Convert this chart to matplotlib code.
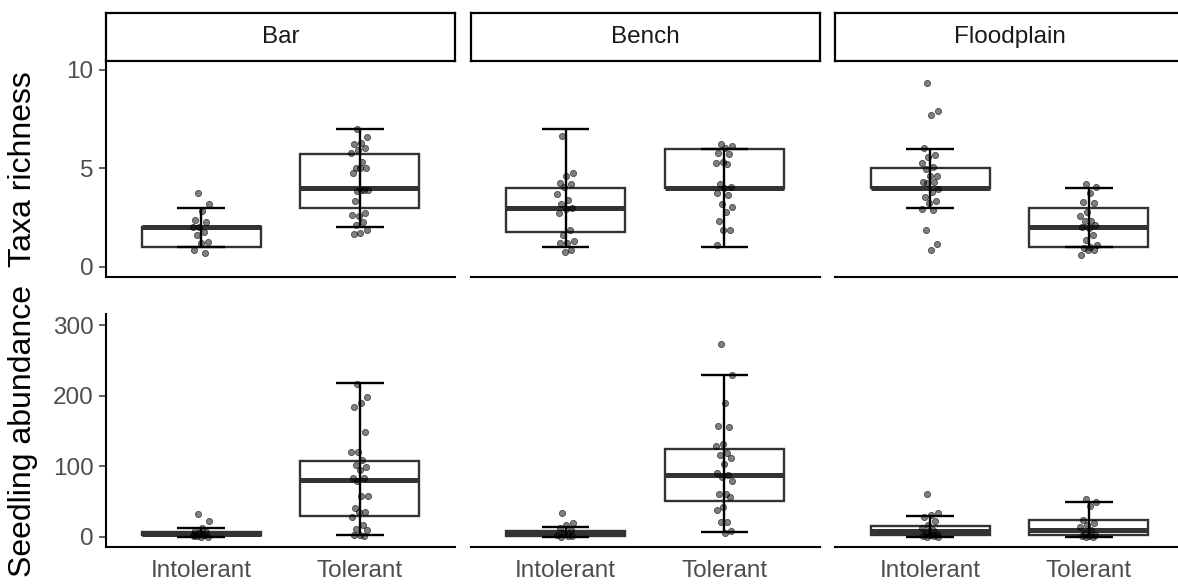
import numpy as np
import matplotlib
matplotlib.use("Agg")
import matplotlib.pyplot as plt

plt.rcParams["font.family"] = ["Liberation Sans", "DejaVu Sans"]

SITES = ["Bar", "Bench", "Floodplain"]
GROUPS = ["Intolerant", "Tolerant"]
ROW_LABELS = ["Taxa richness", "Seedling abundance"]

# box stats: (whisker_lo, q1, median, q3, whisker_hi)
RICH_BOX = {
    ("Bar", "Intolerant"): (1, 1, 2, 2, 3),
    ("Bar", "Tolerant"): (2, 3, 4, 5.75, 7),
    ("Bench", "Intolerant"): (1, 1.75, 3, 4, 7),
    ("Bench", "Tolerant"): (1, 4, 4, 6, 6),
    ("Floodplain", "Intolerant"): (3, 4, 4, 5, 6),
    ("Floodplain", "Tolerant"): (1, 1, 2, 3, 4),
}
ABUND_BOX = {
    ("Bar", "Intolerant"): (0, 2, 4, 7, 13),
    ("Bar", "Tolerant"): (2, 30, 80, 107, 218),
    ("Bench", "Intolerant"): (0, 1.5, 5, 8.5, 14),
    ("Bench", "Tolerant"): (6, 51, 87, 125, 229),
    ("Floodplain", "Intolerant"): (0, 2.5, 8, 15, 29),
    ("Floodplain", "Tolerant"): (0, 3, 10, 23, 49),
}

# jittered observations (y values as drawn)
RICH_PTS = {
    ("Bar", "Intolerant"): [3.73, 3.17, 2.85, 2.37, 2.29, 2.03, 2.03, 1.78, 1.61,
                            1.27, 1.22, 0.85, 0.71],
    ("Bar", "Tolerant"): [6.98, 6.61, 6.31, 6.24, 6.02, 5.93, 5.76, 5.31, 5.0, 5.0,
                          5.0, 4.75, 3.9, 3.86, 3.92, 3.9, 3.34, 2.71, 2.58, 2.62,
                          2.29, 2.12, 1.86, 1.69, 1.64],
    ("Bench", "Intolerant"): [6.64, 4.75, 4.63, 4.27, 4.19, 4.07, 3.69, 3.39, 3.19,
                              2.97, 2.92, 2.71, 1.86, 1.61, 1.32, 1.19, 1.19, 0.85,
                              0.73],
    ("Bench", "Tolerant"): [6.24, 6.14, 6.02, 5.8, 5.73, 5.34, 5.29, 5.22, 4.2, 4.07,
                            4.0, 3.73, 3.64, 3.19, 3.05, 2.8, 2.34, 1.86, 1.86, 1.1],
    ("Floodplain", "Intolerant"): [9.36, 7.92, 7.71, 6.02, 5.68, 5.59, 5.25, 5.05,
                                   4.95, 4.63, 4.63, 4.32, 4.32, 4.24, 3.93, 3.81,
                                   3.56, 3.36, 3.22, 2.95, 2.88, 1.86, 1.14, 0.85],
    ("Floodplain", "Tolerant"): [4.19, 4.07, 3.73, 3.31, 3.22, 2.76, 2.58, 2.34,
                                 2.34, 2.12, 1.95, 2.0, 1.61, 1.36, 1.1, 1.0, 0.95,
                                 0.85, 0.83, 0.59],
}
ABUND_PTS = {
    ("Bar", "Intolerant"): [32, 22, 13, 8.5, 7, 5, 3, 2.4, 1, 0, 0, 0.5],
    ("Bar", "Tolerant"): [216, 198, 189, 184, 148, 119.5, 119.5, 108.6, 101.6, 99.2,
                          94.5, 83.6, 82.7, 79.4, 57.6, 57.6, 41, 35.4, 35.4, 28.3,
                          16.5, 10.4, 9.4, 2.4, 2.4, 1],
    ("Bench", "Intolerant"): [34, 19, 16.5, 11.8, 9.4, 4.7, 2.4, 1, 0, 0.5],
    ("Bench", "Tolerant"): [272.6, 229, 190, 157, 156, 131, 128.5, 118, 115.7, 111,
                            102.5, 89.7, 87, 85, 79, 60.5, 60.5, 56.7, 42.5, 37.8,
                            21.3, 20.3, 8.5, 5.7],
    ("Floodplain", "Intolerant"): [60.5, 33, 30.7, 28.3, 22.7, 16.5, 11.8, 9.4, 5.7,
                                   4, 2.4, 1, 0.5, 0, 0],
    ("Floodplain", "Tolerant"): [53, 49.6, 43.5, 23.6, 19.8, 16.5, 13.2, 9.4, 4.7,
                                 3, 1, 0.5, 0, 0],
}

RICH_TICKS = [0, 5, 10]
ABUND_TICKS = [0, 100, 200, 300]

W, H = 1178, 584
TICK_GREY = "#4D4D4D"
BOX_EDGE = "#333333"


def jitter(n, width=0.055):
    # deterministic spread in place of ggplot's random jitter
    k = np.arange(n)
    return ((k * 0.6180339887 + 0.31) % 1.0 - 0.5) * 2 * width


def draw_panel(ax, site, boxes, points):
    stats = []
    for g in GROUPS:
        lo, q1, med, q3, hi = boxes[(site, g)]
        stats.append(dict(whislo=lo, q1=q1, med=med, q3=q3, whishi=hi, fliers=[]))
    ax.bxp(
        stats,
        positions=[1, 2],
        widths=0.75,
        showcaps=False,
        showfliers=False,
        patch_artist=True,
        boxprops=dict(facecolor="white", edgecolor=BOX_EDGE, linewidth=1.7),
        medianprops=dict(color=BOX_EDGE, linewidth=3.6, solid_capstyle="butt"),
        whiskerprops=dict(linewidth=0),
        manage_ticks=False,
        zorder=2,
    )
    for i, g in enumerate(GROUPS):
        lo, q1, med, q3, hi = boxes[(site, g)]
        x = i + 1
        ax.vlines([x], lo, hi, color="black", linewidth=1.7, zorder=3)
        ax.hlines([lo, hi], x - 0.15, x + 0.15, color="black", linewidth=1.7, zorder=3)
        ys = np.asarray(points[(site, g)], dtype=float)
        ax.scatter(x + jitter(len(ys)), ys, s=20, facecolors=(0, 0, 0, 0.5),
                   edgecolors=(0, 0, 0, 0.6), linewidths=0.6, zorder=4)


fig = plt.figure(figsize=(W / 100, H / 100), dpi=100)

lefts = [106, 470.5, 835]
pw = 349
rows = [
    (60.7, 276.7, RICH_BOX, RICH_PTS, (-0.51, 10.47), RICH_TICKS),
    (314.0, 547.3, ABUND_BOX, ABUND_PTS, (-15.0, 315.6), ABUND_TICKS),
]

for r, (top, bot, boxes, pts, ylim, ticks) in enumerate(rows):
    for c, site in enumerate(SITES):
        ax = fig.add_axes([lefts[c] / W, 1 - bot / H, pw / W, (bot - top) / H])
        draw_panel(ax, site, boxes, pts)
        ax.set_xlim(0.4, 2.6)
        ax.set_ylim(*ylim)
        for s in ("top", "right"):
            ax.spines[s].set_visible(False)
        ax.spines["bottom"].set_linewidth(1.5)
        ax.spines["left"].set_linewidth(1.5)
        ax.set_xticks([1, 2])
        ax.tick_params(axis="x", length=0, pad=9, labelsize=17.5, labelcolor=TICK_GREY)
        if r == 1:
            ax.set_xticklabels(GROUPS)
        else:
            ax.set_xticklabels([])
        if c == 0:
            ax.set_yticks(ticks)
            ax.tick_params(axis="y", length=5, width=1.1, color=BOX_EDGE, pad=4,
                           labelsize=17.5, labelcolor=TICK_GREY)
        else:
            ax.spines["left"].set_visible(False)
            ax.set_yticks([])
        if r == 0:
            sax = fig.add_axes([lefts[c] / W, 1 - 60.7 / H, pw / W, 47.4 / H])
            sax.set_xticks([])
            sax.set_yticks([])
            for s in sax.spines.values():
                s.set_linewidth(1.6)
                s.set_color("black")
            sax.text(0.5, 0.5, site, ha="center", va="center", fontsize=17.5,
                     color="#1A1A1A", transform=sax.transAxes)
    fig.text(23 / W, 1 - (top + bot) / 2 / H, ROW_LABELS[r], rotation=90,
             ha="center", va="center", fontsize=23, color="black")

fig.savefig("out.png", dpi=100)
